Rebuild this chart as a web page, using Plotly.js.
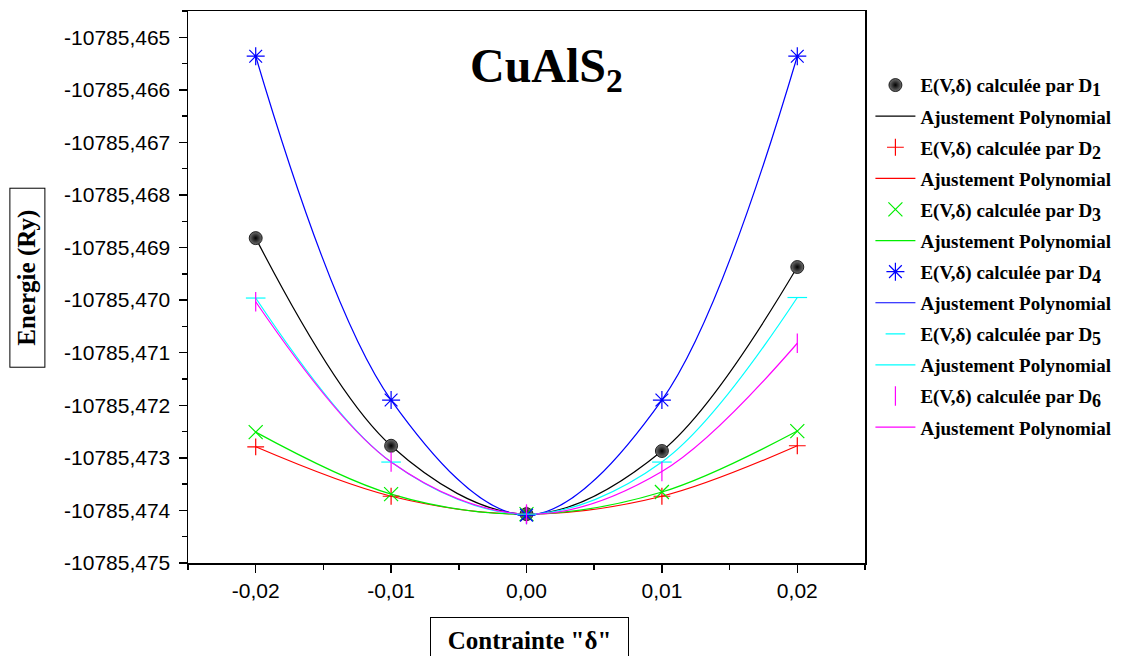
<!DOCTYPE html>
<html>
<head>
<meta charset="utf-8">
<script src="https://cdn.plot.ly/plotly-3.0.1.min.js"></script>
<style>html,body{margin:0;padding:0;background:#fff;}#chart{width:1121px;height:656px;}</style>
</head>
<body>
<div id="chart"></div>
<script>
// Strain values
const strain = [-0.02, -0.01, 0.00, 0.01, 0.02];
// Energies (Ry) for each distortion D1..D6
const energyD1 = [-10785.46882, -10785.47277, -10785.47407, -10785.47287, -10785.46937];
const energyD2 = [-10785.47279, -10785.47373, -10785.47407, -10785.47373, -10785.47277];
const energyD3 = [-10785.47251, -10785.47369, -10785.47407, -10785.47365, -10785.47249];
const energyD4 = [-10785.46536, -10785.47190, -10785.47409, -10785.47190, -10785.46536];
const energyD5 = [-10785.46996, -10785.47308, -10785.47407, -10785.47308, -10785.46995];
const energyD6 = [-10785.47003, -10785.47308, -10785.47407, -10785.47326, -10785.47082];

const xTickVals = [-0.02, -0.01, 0.00, 0.01, 0.02];
const xTickText = ['-0,02', '-0,01', '0,00', '0,01', '0,02'];
const yTickVals = [-10785.465, -10785.466, -10785.467, -10785.468, -10785.469, -10785.470,
                   -10785.471, -10785.472, -10785.473, -10785.474, -10785.475];
const yTickText = ['-10785,465', '-10785,466', '-10785,467', '-10785,468', '-10785,469', '-10785,470',
                   '-10785,471', '-10785,472', '-10785,473', '-10785,474', '-10785,475'];

const seriesNames = ['1', '2', '3', '4', '5', '6'];
const seriesData = [energyD1, energyD2, energyD3, energyD4, energyD5, energyD6];
const colors = ['#000000', '#ff0000', '#00ee00', '#0000ff', '#00ffff', '#ff00ff'];
const symbols = ['circle', 'cross-thin-open', 'x-thin-open', 'asterisk-open', 'line-ew-open', 'line-ns-open'];
const sizes = [13, 12, 14, 15, 14, 14];

const serif = 'Liberation Serif, Times New Roman, serif';
const traces = [];
seriesData.forEach((ys, i) => {
  const marker = {symbol: symbols[i], size: sizes[i], color: colors[i], line: {color: colors[i], width: 1.2}};
  if (i === 0) {
    marker.color = '#707070';
    marker.gradient = {type: 'radial', color: '#000000'};
    marker.line = {color: '#000000', width: 0.8};
  }
  traces.push({
    x: strain, y: ys, mode: 'markers', type: 'scatter',
    name: 'E(V,δ) calculée par D<sub><span style="font-size:18px">' + seriesNames[i] + '</span></sub>',
    marker: marker, legendgroup: 'm' + i
  });
  traces.push({
    x: strain, y: ys, mode: 'lines', type: 'scatter',
    name: 'Ajustement Polynomial',
    line: {color: colors[i], width: 1.2, shape: 'spline', smoothing: 1},
    legendgroup: 'l' + i
  });
});
// fit lines drawn under markers; legend order kept via legendrank
traces.forEach((t, k) => { t.legendrank = k; });
const ordered = traces.filter(t => t.mode === 'lines').concat(traces.filter(t => t.mode === 'markers'));

const layout = {
  width: 1121, height: 656,
  margin: {l: 188, r: 256, t: 11, b: 93, autoexpand: false},
  paper_bgcolor: '#fff', plot_bgcolor: '#fff',
  showlegend: true,
  legend: {
    x: 1.008, xanchor: 'left', y: 0.900, yanchor: 'top',
    font: {family: serif, size: 19, color: '#000', weight: 700},
    itemwidth: 40, tracegroupgap: 3.4, bgcolor: 'rgba(0,0,0,0)'
  },
  xaxis: {
    range: [-0.025, 0.025], showgrid: false, zeroline: false,
    showline: true, linecolor: '#000', linewidth: 1.5, mirror: true,
    ticks: 'outside', ticklen: 8, tickwidth: 1.5, tickcolor: '#000',
    tickmode: 'array', tickvals: xTickVals, ticktext: xTickText,
    minor: {ticks: 'outside', ticklen: 5, tickwidth: 1.5, tickcolor: '#000', tickmode: 'linear', tick0: -0.025, dtick: 0.005},
    tickfont: {family: 'Liberation Sans, Arial, sans-serif', size: 21, color: '#000'}
  },
  yaxis: {
    range: [-10785.475, -10785.4645], showgrid: false, zeroline: false,
    showline: true, linecolor: '#000', linewidth: 1.5, mirror: true,
    ticks: 'outside', ticklen: 8, tickwidth: 1.5, tickcolor: '#000',
    tickmode: 'array', tickvals: yTickVals, ticktext: yTickText, ticklabelstandoff: 4,
    minor: {ticks: 'outside', ticklen: 5, tickwidth: 1.5, tickcolor: '#000', tickmode: 'linear', tick0: -10785.475, dtick: 0.0005},
    tickfont: {family: 'Liberation Sans, Arial, sans-serif', size: 21, color: '#000'}
  },
  annotations: [
    {text: 'CuAlS<sub>2</sub>', xref: 'paper', yref: 'paper', x: 0.529, y: 0.895,
     xanchor: 'center', yanchor: 'middle', showarrow: false,
     font: {family: serif, size: 48, color: '#000', weight: 700}},
    {text: 'Energie (Ry)', xref: 'paper', yref: 'paper', x: -0.237, y: 0.516,
     xanchor: 'center', yanchor: 'middle', showarrow: false, textangle: -90,
     width: 178, height: 34, borderpad: 0, bordercolor: '#000', borderwidth: 1,
     font: {family: serif, size: 25, color: '#000', weight: 700}},
    {text: 'Contrainte "δ"', xref: 'paper', yref: 'paper', x: 0.5037, y: -0.1395,
     xanchor: 'center', yanchor: 'middle', showarrow: false,
     width: 197, height: 44, borderpad: 0, bordercolor: '#000', borderwidth: 1,
     font: {family: serif, size: 25, color: '#000', weight: 700}}
  ]
};

Plotly.newPlot('chart', ordered, layout, {displayModeBar: false, staticPlot: true});
</script>
</body>
</html>
